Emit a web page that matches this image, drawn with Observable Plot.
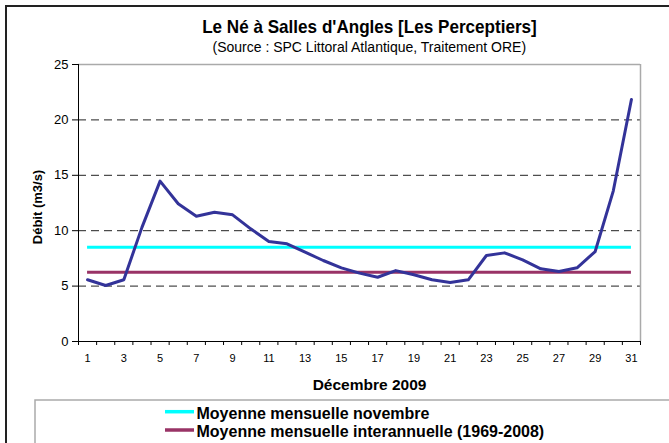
<!DOCTYPE html>
<html>
<head>
<meta charset="utf-8">
<script src="https://cdn.jsdelivr.net/npm/d3@7"></script>
<script src="https://cdn.jsdelivr.net/npm/@observablehq/plot@0.6"></script>
<style>
  html, body { margin: 0; padding: 0; background: #fff; }
  #wrap { position: relative; width: 669px; height: 443px; overflow: hidden; font-family: "Liberation Sans", Arial, sans-serif; }
  #wrap svg { position: absolute; left: 0; top: 0; }
</style>
</head>
<body>
<div id="wrap"></div>
<script>
const days = Array.from({length: 31}, (_, i) => i + 1);
const debit = [5.57, 5.05, 5.57, 10.3, 14.47, 12.43, 11.31, 11.67, 11.43, 10.17,
               9.02, 8.82, 8.06, 7.31, 6.65, 6.17, 5.8, 6.4, 6.02, 5.57,
               5.32, 5.57, 7.76, 8.0, 7.37, 6.56, 6.32, 6.65, 8.12, 13.6, 21.84];
const moyNovembre = 8.51;
const moyInterannuelle = 6.26;
const yTicks = [0, 5, 10, 15, 20, 25];
const gridValues = [5, 10, 15, 20];
const xLabels = [1, 3, 5, 7, 9, 11, 13, 15, 17, 19, 21, 23, 25, 27, 29, 31];
const legendLabels = ["Moyenne mensuelle novembre", "Moyenne mensuelle interannuelle (1969-2008)"];
const legendColors = ["#00FFFF", "#993366"];

const series = days.map((d, i) => ({day: d, v: debit[i]}));
const bounds = Array.from({length: 32}, (_, i) => i + 0.5);
const means = [
  {y: moyNovembre, x1: 1, x2: 31, c: legendColors[0]},
  {y: moyInterannuelle, x1: 1, x2: 31, c: legendColors[1]}
];

const plot = Plot.plot({
  width: 669,
  height: 443,
  marginLeft: 78,
  marginRight: 29,
  marginTop: 64,
  marginBottom: 102,
  style: {fontFamily: "'Liberation Sans', Arial, sans-serif", background: "transparent", color: "#000"},
  x: {domain: [0.5, 31.5], label: null},
  y: {domain: [0, 25], label: null},
  marks: [
    Plot.ruleY(gridValues, {stroke: "#222", strokeDasharray: "8,5", strokeWidth: 1}),
    Plot.ruleY([25], {stroke: "#aaa", strokeWidth: 1.5}),
    Plot.ruleX([31.5], {stroke: "#aaa", strokeWidth: 1.5}),
    Plot.axisY({ticks: yTicks, tickSize: 6, tickPadding: 4, fontSize: 13, label: null, tickFormat: d3.format("d")}),
    Plot.axisX({ticks: bounds, tickSize: 4, tickFormat: () => "", label: null}),
    Plot.axisX({ticks: xLabels, tickSize: 0, tickPadding: 13, fontSize: 11, label: null, tickFormat: d3.format("d")}),
    Plot.ruleX([0.5], {stroke: "#000", strokeWidth: 1}),
    Plot.ruleY([0], {stroke: "#000", strokeWidth: 1}),
    Plot.ruleY(means, {y: "y", x1: "x1", x2: "x2", stroke: "c", strokeWidth: 3}),
    Plot.line(series, {x: "day", y: "v", stroke: "#333399", strokeWidth: 3, strokeLinejoin: "round"})
  ]
});

const wrap = document.getElementById("wrap");
wrap.appendChild(plot);

// overlay for titles, frame and legend
const svg = d3.select(wrap).append("svg")
  .attr("width", 669).attr("height", 443)
  .style("font-family", "'Liberation Sans', Arial, sans-serif");

// outer chart border (left & top)
svg.append("path").attr("d", "M6,460 V6 H680").attr("fill", "none").attr("stroke", "#222").attr("stroke-width", 2);

svg.append("text").attr("x", 369.5).attr("y", 33.3).attr("text-anchor", "middle")
  .attr("font-size", 18).attr("font-weight", "bold")
  .attr("transform", "translate(369.5,0) scale(0.95,1) translate(-369.5,0)")
  .text("Le Né à Salles d'Angles [Les Perceptiers]");
svg.append("text").attr("x", 369.3).attr("y", 51.7).attr("text-anchor", "middle")
  .attr("font-size", 14)
  .text("(Source : SPC Littoral Atlantique, Traitement ORE)");
svg.append("text").attr("x", 369.5).attr("y", 390).attr("text-anchor", "middle")
  .attr("font-size", 15.5).attr("font-weight", "bold")
  .text("Décembre 2009");
svg.append("text").attr("transform", "translate(42,207) rotate(-90)").attr("text-anchor", "middle")
  .attr("font-size", 13).attr("font-weight", "bold")
  .text("Débit (m3/s)");

// legend box
svg.append("rect").attr("x", 35).attr("y", 400).attr("width", 700).attr("height", 100)
  .attr("fill", "#fff").attr("stroke", "#aaa").attr("stroke-width", 1.5);
legendLabels.forEach((lab, i) => {
  const base = 419 + i * 17.7;
  const ly = base - 7.3 + i * 0.6;
  svg.append("line").attr("x1", 165).attr("x2", 194).attr("y1", ly).attr("y2", ly)
    .attr("stroke", legendColors[i]).attr("stroke-width", 3.5);
  svg.append("text").attr("x", 196.5).attr("y", base).attr("font-size", 16).attr("font-weight", "bold").text(lab);
});
</script>
</body>
</html>
